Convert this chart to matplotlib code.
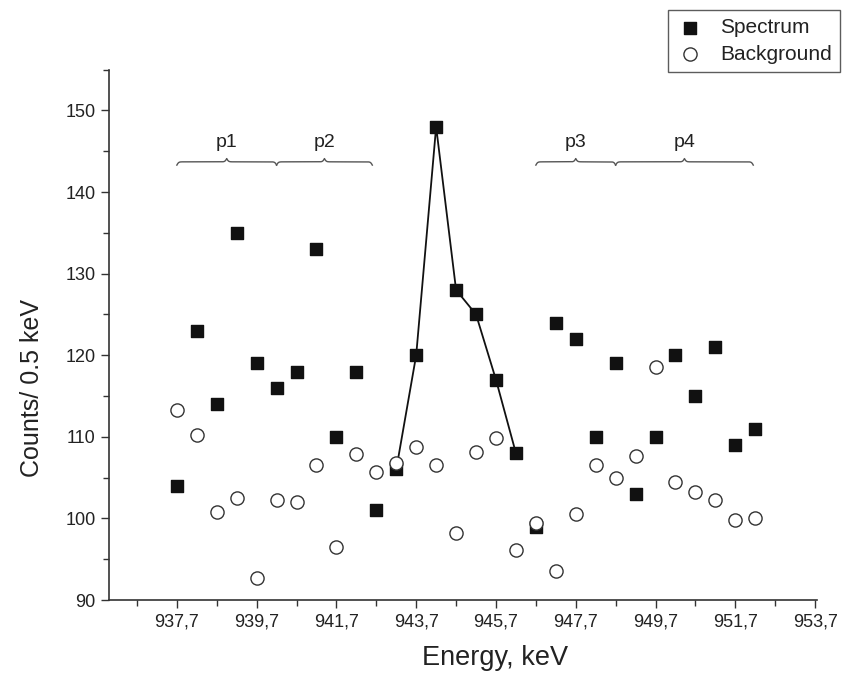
import numpy as np
import matplotlib
matplotlib.use("Agg")
import matplotlib.pyplot as plt
from matplotlib.ticker import FixedLocator, MultipleLocator

plt.rcParams['font.family'] = ['Liberation Sans', 'DejaVu Sans']

energy = [937.7, 938.2, 938.7, 939.2, 939.7, 940.2, 940.7, 941.2, 941.7, 942.2,
          942.7, 943.2, 943.7, 944.2, 944.7, 945.2, 945.7, 946.2, 946.7, 947.2,
          947.7, 948.2, 948.7, 949.2, 949.7, 950.2, 950.7, 951.2, 951.7, 952.2]
spectrum = [104, 123, 114, 135, 119, 116, 118, 133, 110, 118,
            101, 106, 120, 148, 128, 125, 117, 108, 99, 124,
            122, 110, 119, 103, 110, 120, 115, 121, 109, 111]
background = [113.3, 110.2, 100.8, 102.5, 92.7, 102.2, 102.0, 106.6, 96.5, 107.9,
              105.7, 106.8, 108.8, 106.5, 98.2, 108.1, 109.9, 96.1, 99.5, 93.5,
              100.6, 106.5, 105.0, 107.6, 118.5, 104.5, 103.2, 102.2, 99.8, 100.0]
peak_range = (943.2, 946.2)
tick_labels = ['937,7', '939,7', '941,7', '943,7', '945,7', '947,7', '949,7', '951,7', '953,7']
major_ticks = [937.7, 939.7, 941.7, 943.7, 945.7, 947.7, 949.7, 951.7, 953.7]
brace_labels = ['p1', 'p2', 'p3', 'p4']
brace_spans = [(937.7, 940.2), (940.2, 942.6), (946.7, 948.7), (948.7, 952.15)]

fig = plt.figure(figsize=(8.42, 6.82), dpi=100)
ax = fig.add_axes([0.1295, 0.1202, 0.8409, 0.7777])

ax.scatter(energy, spectrum, marker='s', s=80, color='#111111', zorder=3, label='Spectrum')
ax.scatter(energy, background, marker='o', s=90, facecolors='white', edgecolors='#333333',
           linewidths=1.0, zorder=4, label='Background')

e = np.array(energy)
s = np.array(spectrum)
m = (e >= peak_range[0] - 1e-6) & (e <= peak_range[1] + 1e-6)
ax.plot(e[m], s[m], color='#111111', lw=1.3, zorder=2)

def brace(ax, x0, x1, y, h, beta=45.0):
    n = 400
    x = np.linspace(x0, x1, n)
    xh = x[:n // 2 + 1]
    yh = 1 / (1 + np.exp(-beta * (xh - xh[0]))) + 1 / (1 + np.exp(-beta * (xh - xh[-1])))
    yy = np.concatenate((yh, yh[-2::-1]))
    xx = np.linspace(x0, x1, len(yy))
    ax.plot(xx, y + (yy - 1) * h, color='#555555', lw=1.0, clip_on=False)

for lab, (a, b) in zip(brace_labels, brace_spans):
    brace(ax, a, b, 143.7, 0.8)
    ax.text((a + b) / 2, 145.0, lab, ha='center', va='bottom', fontsize=14, color='#222222')

ax.set_xlim(936.0, 953.75)
ax.set_ylim(90, 155)
ax.xaxis.set_major_locator(FixedLocator(major_ticks))
ax.set_xticklabels(tick_labels)
ax.xaxis.set_minor_locator(FixedLocator([936.7, 938.7, 940.7, 942.7, 944.7, 946.7, 948.7, 950.7, 952.7]))
ax.yaxis.set_major_locator(MultipleLocator(10))
ax.yaxis.set_minor_locator(MultipleLocator(5))
ax.tick_params(which='major', direction='out', length=6, width=1.0, labelsize=13,
               color='#333333', labelcolor='#222222')
ax.tick_params(which='minor', direction='out', length=4, width=1.0, color='#333333')
ax.spines['top'].set_visible(False)
ax.spines['right'].set_visible(False)
for sp in ['left', 'bottom']:
    ax.spines[sp].set_color('#333333')
    ax.spines[sp].set_linewidth(1.2)

ax.set_xlabel('Energy, keV', fontsize=19.5, color='#222222')
ax.set_ylabel('Counts/ 0.5 keV', fontsize=18, color='#222222')
ax.xaxis.set_label_coords(0.545, -0.085)
ax.yaxis.set_label_coords(-0.092, 0.40)

leg = fig.legend(loc='upper right', bbox_to_anchor=(0.9976, 0.9853), borderaxespad=0.0,
                 fontsize=15, frameon=True, fancybox=False, edgecolor='#333333',
                 handletextpad=0.8, borderpad=0.4, labelspacing=0.35, handlelength=1.3)
leg.get_frame().set_linewidth(1.0)
for t in leg.get_texts():
    t.set_color('#222222')

fig.savefig('out.png', dpi=100)
